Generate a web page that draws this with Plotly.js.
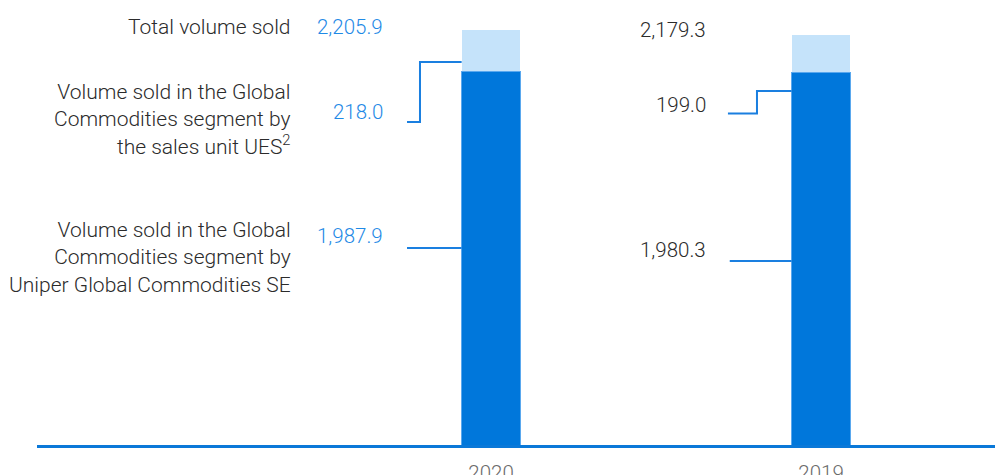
<!DOCTYPE html>
<html>
<head>
<meta charset="utf-8">
<script src="https://cdn.plot.ly/plotly-3.0.1.min.js"></script>
<style>html,body{margin:0;padding:0;background:#fff;}#chart{width:995px;height:475px;}</style>
</head>
<body>
<div id="chart"></div>
<script>
// Data
const years = ["2020", "2019"];
const uniperGC = [1987.9, 1980.3];   // Uniper Global Commodities SE
const salesUES = [218.0, 199.0];     // sales unit UES
const totals = [2205.9, 2179.3];
const totalLabels = ["2,205.9", "2,179.3"];
const uesLabels = ["218.0", "199.0"];
const gcLabels = ["1,987.9", "1,980.3"];
const seriesNames = [
  "Volume sold in the Global<br>Commodities segment by<br>Uniper Global Commodities SE",
  "Volume sold in the Global<br>Commodities segment by<br>the sales unit UES<sup>2</sup>",
  "Total volume sold"
];

const FONT = "Roboto, 'Liberation Sans', sans-serif";
const DARK = "#0077db";
const LIGHT = "#c5e3fa";
const BLUE_TXT = "#1f8ae6";
const TXT = "#2b2b2b";
const BW = 0.178;
const FS = 20.5;
const FL = 21;

const traces = [
  {type: "bar", x: years, y: uniperGC, name: "Uniper Global Commodities SE", width: BW,
   marker: {color: DARK, line: {color: "#5aa8ee", width: 1}}, hoverinfo: "y"},
  {type: "bar", x: years, y: salesUES, name: "sales unit UES", width: BW,
   marker: {color: LIGHT, line: {color: LIGHT, width: 0}}, hoverinfo: "y"}
];

// helper: pixel y (in 475 tall page, baseline 445) -> paper
const py = p => (445 - p) / 445;
const f = (c, s) => ({family: FONT, size: s || FS, color: c, weight: 300});

const ann = [];
// left series labels
ann.push({xref: "x", yref: "paper", x: -0.6, y: py(27), text: seriesNames[2], xanchor: "right", yanchor: "middle", align: "right", showarrow: false, font: f(TXT, FL)});
ann.push({xref: "x", yref: "paper", x: -0.6, y: py(119), text: seriesNames[1], xanchor: "right", yanchor: "middle", align: "right", showarrow: false, font: f(TXT, FL)});
ann.push({xref: "x", yref: "paper", x: -0.6, y: py(257), text: seriesNames[0], xanchor: "right", yanchor: "middle", align: "right", showarrow: false, font: f(TXT, FL)});

// value labels
const valX = [-0.321, 0.658];
const valColors = [BLUE_TXT, TXT];
const totY = [27, 30], uesY = [112, 105], gcY = [236, 250];
for (let i = 0; i < years.length; i++) {
  ann.push({xref: "x", yref: "paper", x: valX[i], y: py(totY[i]), text: totalLabels[i], xanchor: "right", yanchor: "middle", showarrow: false, font: f(valColors[i])});
  ann.push({xref: "x", yref: "paper", x: valX[i], y: py(uesY[i]), text: uesLabels[i], xanchor: "right", yanchor: "middle", showarrow: false, font: f(valColors[i])});
  ann.push({xref: "x", yref: "paper", x: valX[i], y: py(gcY[i]), text: gcLabels[i], xanchor: "right", yanchor: "middle", showarrow: false, font: f(valColors[i])});
}

// connector lines
const lineStyle = {color: "#1a7fe0", width: 2};
const shapes = [
  {type: "path", xref: "x", yref: "paper", path: `M -0.2545 ${py(122)} L -0.2152 ${py(122)} L -0.2152 ${py(62)} L ${-BW/2} ${py(62)}`, line: lineStyle},
  {type: "line", xref: "x", yref: "paper", x0: -0.2545, x1: -BW/2, y0: py(248), y1: py(248), line: lineStyle},
  {type: "path", xref: "x", yref: "paper", path: `M 0.718 ${py(113.5)} L 0.806 ${py(113.5)} L 0.806 ${py(91)} L ${1-BW/2} ${py(91)}`, line: lineStyle},
  {type: "line", xref: "x", yref: "paper", x0: 0.7235, x1: 1-BW/2, y0: py(261), y1: py(261), line: lineStyle}
];

const layout = {
  width: 995, height: 475,
  margin: {l: 37, r: 0, t: 0, b: 30},
  paper_bgcolor: "#ffffff", plot_bgcolor: "#ffffff",
  barmode: "stack",
  showlegend: false,
  xaxis: {type: "category", range: [-1.3758, 1.5273], showline: true, linecolor: "#0a78d8", linewidth: 2.5,
          showgrid: false, zeroline: false, ticks: "", ticklabelstandoff: 8,
          tickfont: {family: FONT, size: FS, color: "#6b6b6b", weight: 300}},
  yaxis: {range: [0, 2365.6], visible: false, showgrid: false, zeroline: false, fixedrange: true},
  annotations: ann,
  shapes: shapes,
  font: {family: FONT}
};

Plotly.newPlot("chart", traces, layout, {displayModeBar: false, staticPlot: true});
</script>
</body>
</html>
